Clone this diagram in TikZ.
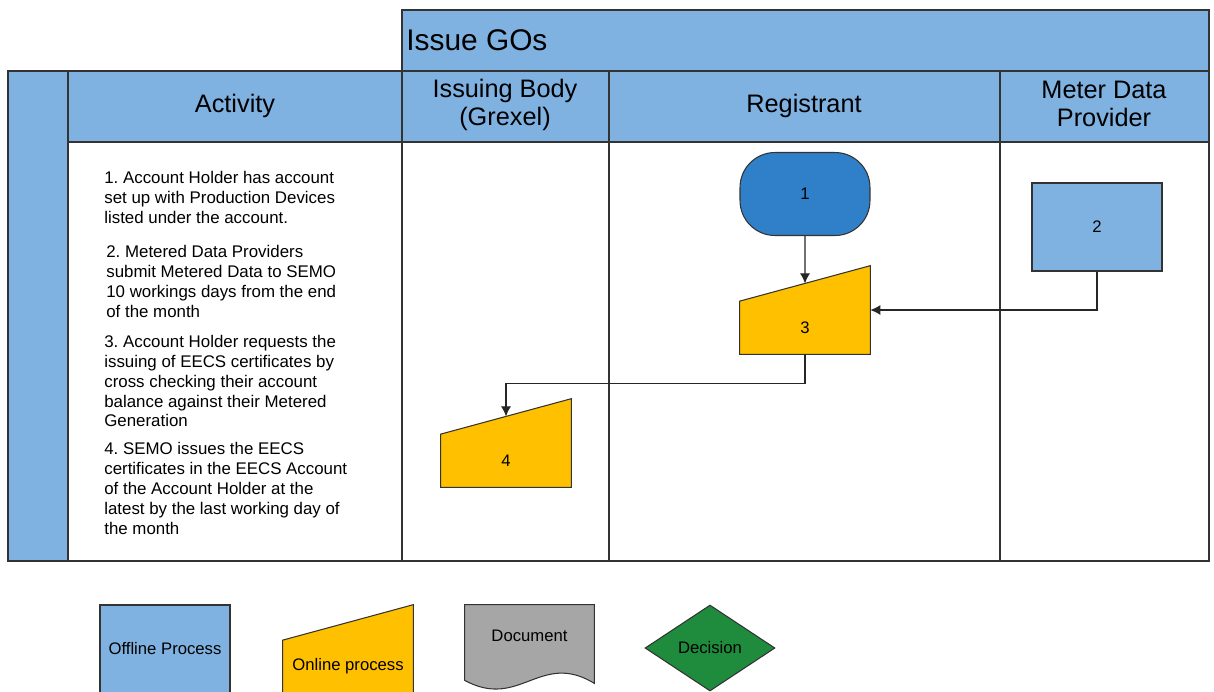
\documentclass[tikz,border=0pt]{standalone}
\usepackage{fontspec}
\setmainfont{Liberation Sans}
\usetikzlibrary{positioning,calc,arrows.meta,shapes.geometric}
\frenchspacing

\pgfdeclarelayer{lanes}
\pgfdeclarelayer{shapes}
\pgfsetlayers{lanes,shapes,main}

\definecolor{laneblue}{RGB}{127,178,225}
\definecolor{startblue}{RGB}{48,128,201}
\definecolor{onlineyellow}{RGB}{255,192,0}
\definecolor{docgray}{RGB}{166,166,166}
\definecolor{decgreen}{RGB}{30,140,60}

\begin{document}
\begin{tikzpicture}[
		x=0.02cm,y=-0.02cm,
		lane/.style={draw=black!80,line width=0.9pt},
		headtext/.style={font=\fontsize{14.4}{16.4}\selectfont,align=center,inner sep=0pt},
		steptext/.style={font=\fontsize{9.6}{11.3}\selectfont,align=left,anchor=north west,inner sep=0pt},
		smallfont/.style={font=\fontsize{9.5}{11.3}\selectfont},
		shapeline/.style={draw=black!80,line width=0.6pt},
		flowbox/.style={shapeline,smallfont,minimum width=2.6cm,minimum height=1.76cm,inner sep=0pt},
		startnode/.style={flowbox,fill=startblue,rounded corners=0.7cm,minimum height=1.66cm},
		offlinebox/.style={flowbox,fill=laneblue},
		onlinebox/.style={minimum width=2.6cm,minimum height=1.76cm,inner sep=0pt,
			label={[smallfont,yshift=-0.35cm]center:#1}},
		docbox/.style={minimum width=2.58cm,minimum height=1.56cm,inner sep=0pt,
			label={[smallfont,yshift=0.16cm]center:#1}},
		decisionbox/.style={shapeline,smallfont,diamond,fill=decgreen,aspect=1.5,inner sep=0pt,
			minimum width=2.6cm,minimum height=1.72cm},
		flow/.style={-{Latex[length=2mm,width=2mm]},draw=black!85,line width=0.6pt}
	]
	\useasboundingbox (0,0) rectangle (1214,691);

	% swimlanes
	\begin{pgfonlayer}{lanes}
		\draw[lane,fill=laneblue] (402,10) rectangle (1209,71);
		\draw[lane,fill=laneblue] (8,71) rectangle (68,561);
		\draw[lane,fill=laneblue] (68,71) rectangle (1209,142);
		\draw[lane,fill=white] (68,142) rectangle (1209,561);
		\draw[lane] (402,71) -- (402,561);
		\draw[lane,line width=1.3pt] (609,71) rectangle (1000,561);
	\end{pgfonlayer}

	\node[headtext,anchor=west,font=\fontsize{17}{20}\selectfont] (issue) at (406,40) {Issue GOs};
	\node[headtext] (activity) at (235,106) {Activity};
	\node[headtext] (issuing) at (505,105) {Issuing Body\\(Grexel)};
	\node[headtext] (registrant) at (804,106) {Registrant};
	\node[headtext] (provider) at (1104,104) {Meter Data\\Provider};

	% activity text
	\node[steptext] (step1) at (104,171) {1. Account Holder has account\\set up with Production Devices\\listed under the account.};
	\node[steptext] (step2) at (106,245) {2. Metered Data Providers\\submit Metered Data to SEMO\\10 workings days from the end\\of the month};
	\node[steptext] (step3) at (104,335) {3. Account Holder requests the\\issuing of EECS certificates by\\cross checking their account\\balance against their Metered\\Generation};
	\node[steptext] (step4) at (104,442) {4. SEMO issues the EECS\\certificates in the EECS Account\\of the Account Holder at the\\latest by the last working day of\\the month};

	% process
	\node[startnode] (one) at (805,194) {1};
	\node[offlinebox] (two) at (1097,227) {2};
	\node[onlinebox=3] (three) at (805,310) {};
	\node[onlinebox=4] (four) at (506,443) {};

	% legend
	\node[offlinebox] (offline) at (165,649) {Offline Process};
	\node[onlinebox=Online process] (online) at (348,649) {};
	\node[docbox=Document] (document) at (529.5,644) {};
	\node[decisionbox] (decision) at (710,648) {Decision};

	\begin{pgfonlayer}{shapes}
		\foreach \shp in {three,four,online}
			\draw[shapeline,fill=onlineyellow] (\shp.south west) -- (\shp.south east) -- (\shp.north east)
				-- ($(\shp.north west)!0.4!(\shp.south west)$) -- cycle;
		\draw[shapeline,fill=docgray] (document.north west) -- (document.north east) -- (document.south east)
			.. controls +(-54,-33) and +(55,30) .. ($(document.south west)+(0,-3)$) -- cycle;
	\end{pgfonlayer}

	\coordinate (threein) at ($(three.north)!0.2!(three.south)$);
	\coordinate (fourin) at ($(four.north)!0.2!(four.south)$);
	\draw[flow] (one) -- (threein);
	\draw[flow] (two.south) |- (three.east);
	\draw[flow] (three.south) -- ++(0,29) -| (fourin);
\end{tikzpicture}
\end{document}
